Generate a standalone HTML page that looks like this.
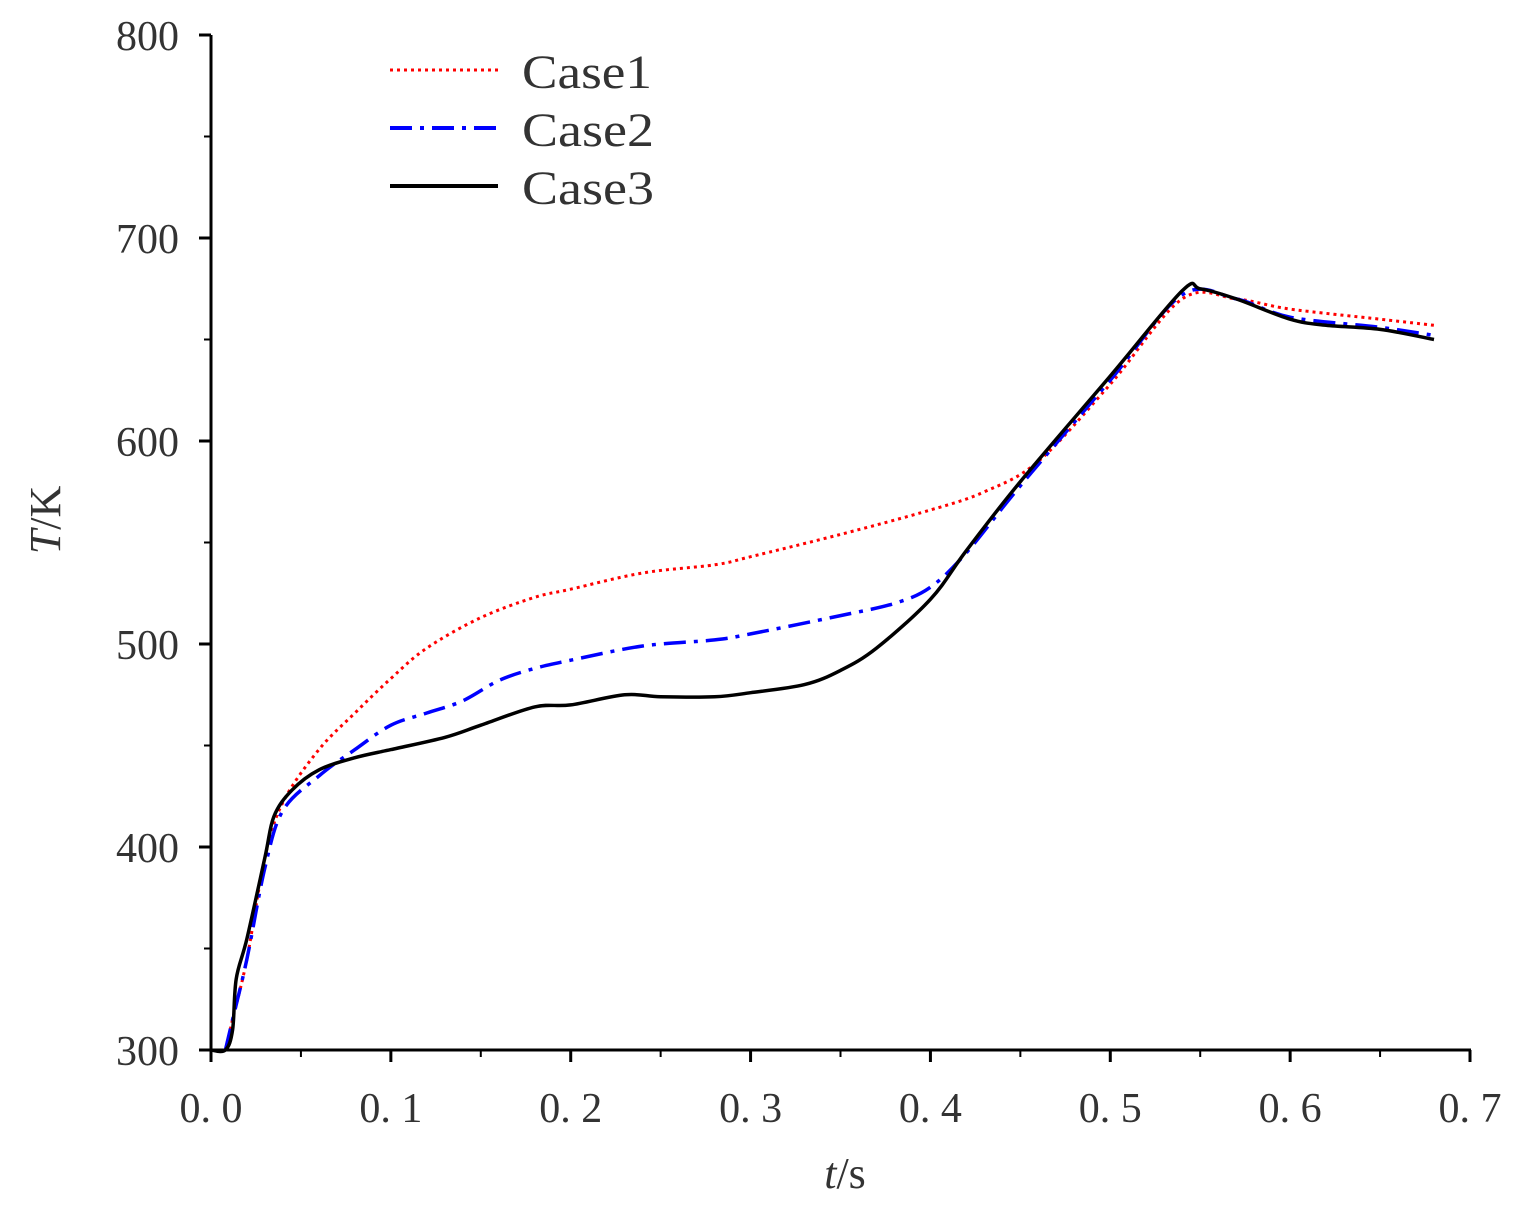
<!DOCTYPE html>
<html><head><meta charset="utf-8"><style>
html,body{margin:0;padding:0;background:#fff;}
svg{display:block;}
text{font-family:"Liberation Serif",serif;fill:#333;}
</style></head><body>
<svg id="chart" width="1513" height="1221">
<g id="axes"></g>
<g id="series"></g>
<g id="legend">
  <line x1="390" y1="70" x2="498" y2="70" stroke="#f00" stroke-width="3" stroke-dasharray="3,4"/>
  <text x="522" y="88" font-size="48" textLength="130" lengthAdjust="spacingAndGlyphs">Case1</text>
  <line x1="390" y1="128" x2="498" y2="128" stroke="#00f" stroke-width="4" stroke-dasharray="22,8,4,8"/>
  <text x="522" y="146" font-size="48" textLength="132" lengthAdjust="spacingAndGlyphs">Case2</text>
  <line x1="390" y1="186" x2="498" y2="186" stroke="#000" stroke-width="4"/>
  <text x="522" y="204" font-size="48" textLength="132" lengthAdjust="spacingAndGlyphs">Case3</text>
</g>
<text x="845" y="1188" font-size="44" text-anchor="middle"><tspan font-style="italic">t</tspan>/s</text>
<text transform="translate(60,520) rotate(-90)" font-size="44" text-anchor="middle"><tspan font-style="italic">T</tspan>/K</text>
</svg>
<script>
const xTicks = [0,0.1,0.2,0.3,0.4,0.5,0.6,0.7];
const xTickLabels = ["0. 0","0. 1","0. 2","0. 3","0. 4","0. 5","0. 6","0. 7"];
const yTicks = [300,400,500,600,700,800];
const case1T = [0.008,0.012,0.02,0.03,0.04,0.06,0.08,0.1,0.12,0.15,0.18,0.2,0.24,0.28,0.3,0.35,0.4,0.43,0.46,0.5,0.54,0.57,0.6,0.65,0.68];
const case1V = [300,315,345,395,422,448,466,483,498,513,523,527,535,539,543,554,566,575,590,628,670,670,665,660,657];
const case2T = [0.008,0.012,0.02,0.03,0.04,0.06,0.08,0.1,0.12,0.14,0.16,0.18,0.2,0.24,0.28,0.3,0.35,0.38,0.4,0.42,0.45,0.5,0.54,0.57,0.6,0.65,0.68];
const case2V = [300,315,345,390,418,435,448,460,466,472,482,488,492,499,502,505,514,520,528,545,578,630,672,670,661,656,652];
const case3T = [0,0.008,0.012,0.014,0.02,0.03,0.035,0.045,0.06,0.08,0.1,0.13,0.15,0.18,0.2,0.23,0.25,0.28,0.3,0.33,0.35,0.37,0.4,0.42,0.45,0.5,0.54,0.55,0.57,0.6,0.62,0.65,0.68];
const case3V = [300,300,310,335,355,395,415,428,438,444,448,454,460,469,470,475,474,474,476,480,487,498,522,546,580,632,674,675,670,660,657,655,650];

const X0=211,X1=1470,Y0=1050,Y1=35;
const xs=t=>X0+(t/0.7)*(X1-X0);
const ys=v=>Y0-(v-300)/500*(Y0-Y1);
const NS='http://www.w3.org/2000/svg';
const axes=document.getElementById('axes');
function mk(tag,attrs,parent){const e=document.createElementNS(NS,tag);for(const k in attrs)e.setAttribute(k,attrs[k]);parent.appendChild(e);return e;}
let e=mk('line',{x1:X0,y1:Y1,x2:X0,y2:Y0+1,stroke:'#000','stroke-width':3},axes);


e=mk('line',{x1:X0-1,y1:Y0,x2:X1+1,y2:Y0,stroke:'#000','stroke-width':3},axes);


xTicks.forEach((t,i)=>{
  const l=mk('line',{x1:xs(t),y1:Y0,x2:xs(t),y2:Y0+12,stroke:'#000','stroke-width':3},axes);
  
  
  if(i<xTicks.length-1){const m=mk('line',{x1:xs(t+0.05),y1:Y0,x2:xs(t+0.05),y2:Y0+7,stroke:'#000','stroke-width':2},axes);
  
  }
  const tx=mk('text',{x:xs(t),y:Y0+72,'font-size':42,'text-anchor':'middle'},axes);tx.textContent=xTickLabels[i];
  
  
});
yTicks.forEach((v,i)=>{
  const l=mk('line',{x1:X0-12,y1:ys(v),x2:X0,y2:ys(v),stroke:'#000','stroke-width':3},axes);
  
  
  if(i<yTicks.length-1){const m=mk('line',{x1:X0-7,y1:ys(v+50),x2:X0,y2:ys(v+50),stroke:'#000','stroke-width':2},axes);
  
  }
  const tx=mk('text',{x:X0-32,y:ys(v)+15,'font-size':42,'text-anchor':'end'},axes);tx.textContent=v;
  
  
});
const ser=document.getElementById('series');
function path(T,V){
  const P=T.map((t,i)=>[xs(t),ys(V[i])]);
  let d='M'+P[0][0].toFixed(1)+','+P[0][1].toFixed(1);
  for(let i=0;i<P.length-1;i++){
    const p0=P[Math.max(0,i-1)],p1=P[i],p2=P[i+1],p3=P[Math.min(P.length-1,i+2)];
    const c1=[p1[0]+(p2[0]-p0[0])/6,p1[1]+(p2[1]-p0[1])/6];
    const c2=[p2[0]-(p3[0]-p1[0])/6,p2[1]-(p3[1]-p1[1])/6];
    d+=' C'+c1.map(n=>n.toFixed(1)).join(',')+' '+c2.map(n=>n.toFixed(1)).join(',')+' '+p2.map(n=>n.toFixed(1)).join(',');
  }
  return d;
}
let p=mk('path',{d:path(case1T,case1V),fill:'none',stroke:'#f00','stroke-width':3,'stroke-dasharray':'3,4','stroke-linejoin':'round'},ser);


p=mk('path',{d:path(case2T,case2V),fill:'none',stroke:'#00f','stroke-width':3.5,'stroke-dasharray':'22,8,4,8','stroke-linejoin':'round'},ser);


p=mk('path',{d:path(case3T,case3V),fill:'none',stroke:'#000','stroke-width':3.5,'stroke-linejoin':'round'},ser);


</script>
</body></html>
